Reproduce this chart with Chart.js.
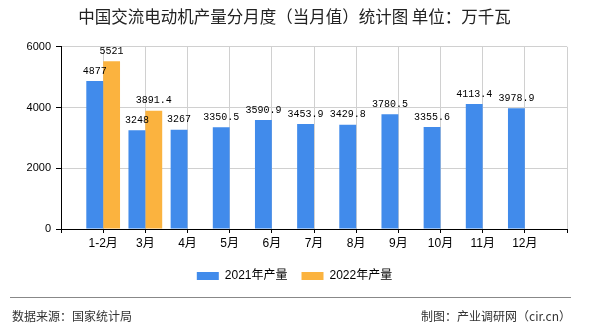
<!DOCTYPE html>
<html>
<head>
<meta charset="utf-8">
<script src="https://cdn.jsdelivr.net/npm/chart.js@4/dist/chart.umd.min.js"></script>
<style>
  body { margin: 0; background: #fff; }
  #wrap { position: relative; width: 590px; height: 330px; }
  #footer_line { position: absolute; left: 10px; top: 297px; width: 561px; border-top: 1px solid #888; }
  .foot { position: absolute; top: 307px; font: 12px "Noto Sans CJK SC", sans-serif; color: #333; line-height: 18px; }
</style>
</head>
<body>
<div id="wrap">
  <canvas id="myChart" width="590" height="330"></canvas>
  <div id="footer_line"></div>
  <div class="foot" style="left:12px;">数据来源：国家统计局</div>
  <div class="foot" style="right:19px;">制图：产业调研网（cir.cn）</div>
</div>
<script>
var months = ["1-2月", "3月", "4月", "5月", "6月", "7月", "8月", "9月", "10月", "11月", "12月"];
var output_2021 = [4877, 3248, 3267, 3350.5, 3590.9, 3453.9, 3429.8, 3780.5, 3355.6, 4113.4, 3978.9];
var output_2022 = [5521, 3891.4, null, null, null, null, null, null, null, null, null];
var y_ticks = [0, 2000, 4000, 6000];

// empty slot at each end so the groups sit on the grid lines
var labels = [""].concat(months, [""]);

// values above the bars
const valueLabels = {
	id: "valueLabels",
	afterDatasetsDraw(chart) {
		const ctx = chart.ctx;
		ctx.save();
		ctx.font = "10px 'Liberation Mono', monospace";
		ctx.fillStyle = "#000";
		ctx.textAlign = "center";
		ctx.textBaseline = "bottom";
		chart.data.datasets.forEach(function (ds, i) {
			chart.getDatasetMeta(i).data.forEach(function (bar, j) {
				var v = ds.data[j];
				if (v == null) return;
				ctx.fillText(String(v), bar.x, bar.y - 5);
			});
		});
		ctx.restore();
	},
};

const data = {
	labels: labels,
	datasets: [
		{
			label: "2021年产量",
			backgroundColor: "#418beb",
			data: [null].concat(output_2021, [null]),
			categoryPercentage: 0.8,
			barPercentage: 1.0,
		},
		{
			label: "2022年产量",
			backgroundColor: "#fbb33f",
			data: [null].concat(output_2022, [null]),
			categoryPercentage: 0.8,
			barPercentage: 1.0,
		},
	],
};

const config = {
	type: "bar",
	data: data,
	plugins: [valueLabels],
	options: {
		responsive: false,
		animation: false,
		layout: { padding: { top: 0, right: 23, bottom: 38, left: 22 } },
		plugins: {
			title: {
				display: true,
				text: "中国交流电动机产量分月度（当月值）统计图 单位：万千瓦",
				color: "#222",
				font: { size: 16.5, weight: "normal", family: "'Noto Sans CJK SC', sans-serif" },
				padding: { top: 7, bottom: 20 },
			},
			legend: {
				position: "bottom",
				labels: {
					boxWidth: 22,
					boxHeight: 8,
					padding: 14,
					color: "#000",
					font: { size: 12, family: "'Liberation Sans', 'Noto Sans CJK SC', sans-serif" },
				},
			},
			tooltip: { enabled: false },
		},
		scales: {
			x: {
				offset: false,
				grid: { offset: false, color: "#d0d0d0", tickColor: "#000", tickLength: 4 },
				border: { color: "#000" },
				ticks: {
					autoSkip: false,
					maxRotation: 0,
					padding: 3,
					color: "#000",
					font: { size: 12, family: "'Liberation Sans', 'Noto Sans CJK SC', sans-serif" },
				},
				afterFit: function (scale) { scale.height = 27; },
			},
			y: {
				min: 0,
				max: 6000,
				afterBuildTicks: function (scale) {
					scale.ticks = y_ticks.map(function (v) { return { value: v }; });
				},
				grid: { color: "#d0d0d0", tickColor: "#000", tickLength: 5 },
				border: { color: "#000" },
				ticks: {
					padding: 5,
					color: "#000",
					font: { size: 11, family: "'Liberation Sans', sans-serif" },
					callback: function (v) { return String(v); },
				},
				afterFit: function (scale) { scale.width = 39; },
			},
		},
	},
};

const myChart = new Chart(document.getElementById("myChart"), config);
</script>
</body>
</html>
